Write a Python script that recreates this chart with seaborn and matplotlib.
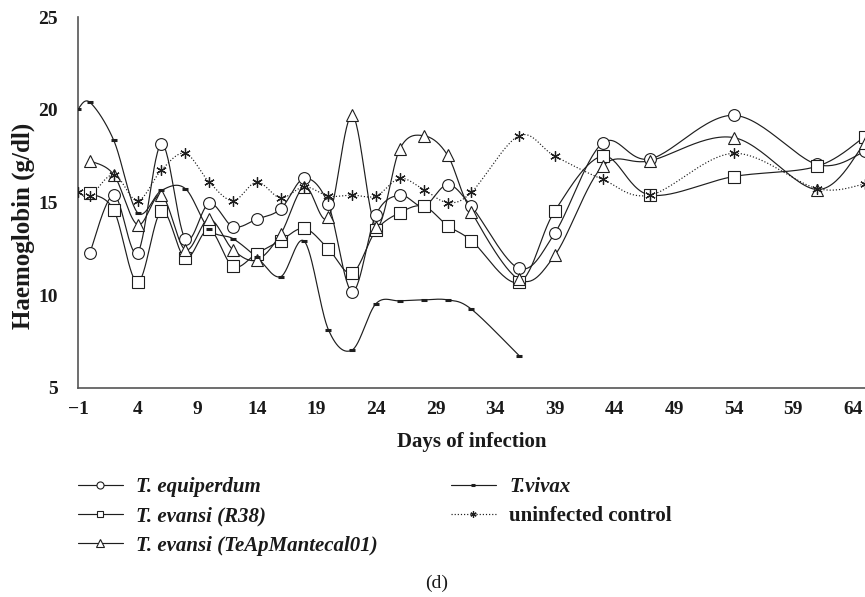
import numpy as np
import pandas as pd
import matplotlib
matplotlib.use("Agg")
import matplotlib.pyplot as plt
from matplotlib.lines import Line2D
import seaborn as sns

# days of infection and haemoglobin (g/dl)
days = [0, 2, 4, 6, 8, 10, 12, 14, 16, 18, 20, 22, 24, 26, 28, 30, 32, 36, 39, 43, 47, 54, 61, 65]
days_vivax = [-1, 0, 2, 4, 6, 8, 10, 12, 14, 16, 18, 20, 22, 24, 26, 28, 30, 32, 36]
days_control = [-1] + days

equiperdum = [12.3, 15.4, 12.3, 18.15, 13.05, 14.95, 13.7, 14.1, 14.65, 16.3, 14.9, 10.2, 14.35,
              15.4, 14.8, 15.95, 14.8, 11.45, 13.35, 18.2, 17.35, 19.7, 17.05, 17.75]
evansi_r38 = [15.5, 14.6, 10.7, 14.55, 12.0, 13.55, 11.55, 12.25, 12.95, 13.6, 12.5, 11.2, 13.5,
              14.45, 14.8, 13.75, 12.95, 10.7, 14.55, 17.5, 15.4, 16.4, 16.95, 18.55]
evansi_teap = [17.25, 16.5, 13.8, 15.4, 12.45, 14.1, 12.45, 11.9, 13.3, 15.85, 14.2, 19.7, 13.7,
               17.9, 18.6, 17.55, 14.5, 10.85, 12.15, 16.95, 17.25, 18.5, 15.7, 18.2]
vivax = [20.05, 20.4, 18.35, 14.45, 15.65, 15.75, 13.55, 13.05, 12.05, 11.0, 12.9, 8.15, 7.05,
         9.55, 9.7, 9.75, 9.75, 9.25, 6.75]
control = [15.55, 15.35, 16.5, 15.1, 16.75, 17.65, 16.1, 15.1, 16.1, 15.25, 15.85, 15.35, 15.4,
           15.35, 16.3, 15.7, 15.0, 15.55, 18.6, 17.5, 16.25, 15.4, 17.65, 15.75, 16.0]

x_ticks = [-1, 4, 9, 14, 19, 24, 29, 34, 39, 44, 49, 54, 59, 64]
y_ticks = [5, 10, 15, 20, 25]


def smooth(x, y, n=30):
    # catmull-rom style bezier, like a spreadsheet "smoothed line"
    p = np.column_stack([x, y]).astype(float)
    p = np.vstack([p[0], p, p[-1]])
    out = []
    t = np.linspace(0, 1, n)[:, None]
    for i in range(1, len(p) - 2):
        p0, p1, p2, p3 = p[i - 1], p[i], p[i + 1], p[i + 2]
        b1 = p1 + (p2 - p0) / 6
        b2 = p2 - (p3 - p1) / 6
        seg = ((1 - t) ** 3) * p1 + 3 * ((1 - t) ** 2) * t * b1 + 3 * (1 - t) * t ** 2 * b2 + t ** 3 * p2
        out.append(seg)
    out = np.vstack(out)
    return pd.DataFrame({"day": out[:, 0], "hb": out[:, 1]})


sns.set_theme(style="white")
plt.rcParams["font.family"] = ["Liberation Serif", "DejaVu Serif"]
plt.rcParams["font.weight"] = "bold"

fig = plt.figure(figsize=(8.65, 5.97), dpi=100)
ax = fig.add_axes([78 / 865, 1 - 388 / 597, 1 - 78 / 865, (388 - 17) / 597])

ink = "#1e1e1e"
series = [
    ("T. equiperdum", days, equiperdum, dict(marker="o", ms=8.5, mfc="white", mec=ink, mew=0.8), "-"),
    ("T. evansi (R38)", days, evansi_r38, dict(marker="s", ms=8, mfc="white", mec=ink, mew=0.8), "-"),
    ("T. evansi (TeApMantecal01)", days, evansi_teap, dict(marker="^", ms=8.5, mfc="white", mec=ink, mew=0.8), "-"),
    ("T.vivax", days_vivax, vivax, dict(marker="_", ms=4, mec=ink, mew=2.2), "-"),
    ("uninfected control", days_control, control, dict(marker=(6, 2, 0), ms=7.5, mec=ink, mew=0.9), ":"),
]

handles = []
for name, xs, ys, mk, ls in series:
    curve = smooth(xs, ys)
    sns.lineplot(data=curve, x="day", y="hb", ax=ax, color=ink, lw=0.85, linestyle=ls,
                 sort=False, estimator=None)
    ax.plot(xs, ys, linestyle="none", zorder=3, **mk)
    small = {**mk, "ms": mk["ms"] * 0.6 if mk["marker"] != "_" else 3}
    handles.append(Line2D([], [], color=ink, lw=0.85, linestyle=ls, **small))

ax.set_xlim(-1, 65.02)
ax.set_ylim(5, 25)
ax.set_xticks(x_ticks)
ax.set_xticklabels(["\u2212" + str(-v) if v < 0 else str(v) for v in x_ticks])
ax.set_yticks(y_ticks)
for s in ["top", "right"]:
    ax.spines[s].set_visible(False)
for s in ["left", "bottom"]:
    ax.spines[s].set_color("#555555")
    ax.spines[s].set_linewidth(1.2)
ax.tick_params(axis="both", direction="out", length=2.5, width=1.0, color="#555555",
               labelsize=14, labelcolor="#1a1a1a")
ax.tick_params(axis="x", pad=7)
ax.tick_params(axis="y", pad=12)
for lab in ax.get_xticklabels() + ax.get_yticklabels():
    lab.set_fontweight("bold")

ax.set_xlabel("Days of infection", fontsize=15, fontweight="bold", color="#1a1a1a")
ax.set_ylabel("Haemoglobin (g/dl)", fontsize=18, fontweight="bold", color="#1a1a1a")
ax.xaxis.set_label_coords(0.5, (388 - 442) / 371)
ax.yaxis.set_label_coords((23 - 78) / 787, (388 - 226) / 371)
ax.xaxis.label.set_va("center")
ax.yaxis.label.set_va("center")

leg = fig.legend(handles, [s[0] for s in series], loc="upper left", ncol=2,
                 bbox_to_anchor=(78 / 865, 1 - 477 / 597), frameon=False, borderpad=0,
                 borderaxespad=0, handlelength=2.15, handletextpad=0.65, columnspacing=3.5,
                 labelspacing=0.45,
                 prop={"family": "Liberation Serif", "weight": "bold", "style": "italic", "size": 15})
for t in leg.get_texts():
    t.set_color("#1a1a1a")
leg.get_texts()[4].set_fontstyle("normal")

fig.text(437 / 865, 1 - 583 / 597, "(d)", ha="center", va="center", fontsize=14,
         fontweight="normal", color="#1a1a1a")

fig.savefig("out.png", dpi=100)
